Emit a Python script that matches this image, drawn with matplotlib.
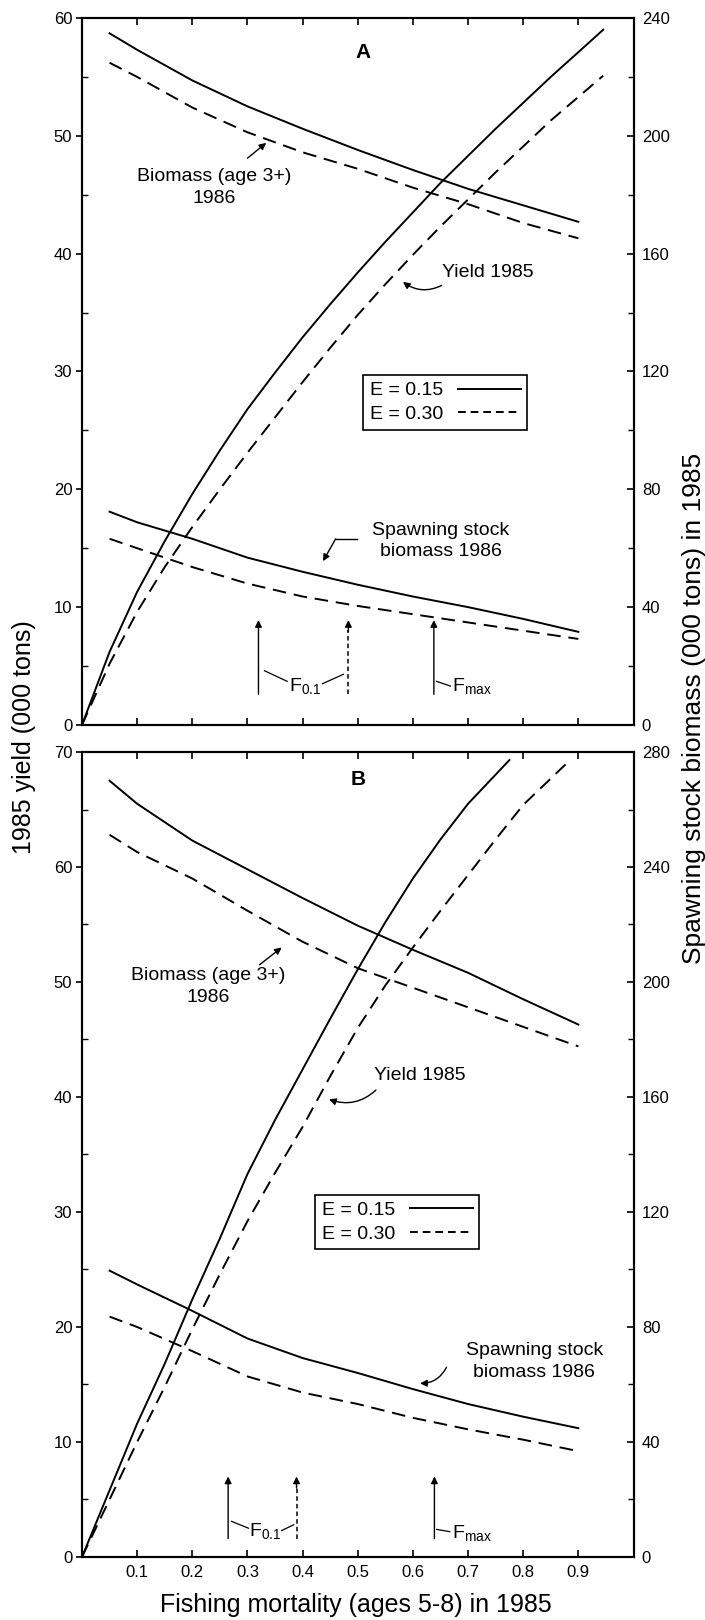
import matplotlib
matplotlib.use('Agg')
import matplotlib.pyplot as plt
from matplotlib.lines import Line2D
from matplotlib.ticker import MultipleLocator

# Fishing mortality grid used for the 1986 biomass curves
f_grid = [0.05, 0.1, 0.2, 0.3, 0.4, 0.5, 0.6, 0.7, 0.8, 0.9]

# Panel A
f_yield_a = [0, 0.05, 0.1, 0.15, 0.2, 0.25, 0.3, 0.35, 0.4, 0.45, 0.5,
             0.55, 0.6, 0.65, 0.7, 0.75, 0.8, 0.85, 0.9, 0.945]
yield_a_e15 = [0, 6.2, 11.3, 15.6, 19.6, 23.3, 26.8, 29.9, 32.9, 35.7, 38.4,
               41.0, 43.5, 46.0, 48.3, 50.6, 52.8, 55.0, 57.1, 59.0]
yield_a_e30 = [0, 5.2, 9.6, 13.4, 16.8, 20.0, 23.1, 26.1, 29.1, 32.0, 34.8,
               37.4, 39.9, 42.3, 44.6, 46.9, 49.1, 51.3, 53.3, 55.1]
bio_a_e15 = [58.7, 57.3, 54.7, 52.5, 50.6, 48.8, 47.1, 45.5, 44.1, 42.7]
bio_a_e30 = [56.2, 55.0, 52.4, 50.3, 48.6, 47.2, 45.6, 44.2, 42.6, 41.3]
ssb_a_e15 = [18.1, 17.2, 15.8, 14.2, 13.0, 11.9, 10.9, 10.0, 9.0, 7.9]
ssb_a_e30 = [15.8, 15.0, 13.4, 12.0, 10.9, 10.1, 9.4, 8.7, 8.0, 7.3]
f01_a = [0.32, 0.483]      # E=0.15 (solid), E=0.30 (dashed)
fmax_a = 0.638

# Panel B
f_yield_b_e15 = [0, 0.05, 0.1, 0.15, 0.2, 0.25, 0.3, 0.35, 0.4, 0.45, 0.5,
                 0.55, 0.6, 0.65, 0.7, 0.775]
yield_b_e15 = [0, 5.8, 11.6, 16.8, 22.4, 27.7, 33.3, 38.0, 42.4, 46.8, 51.1,
               55.2, 59.0, 62.4, 65.5, 69.3]
f_yield_b_e30 = [0, 0.05, 0.1, 0.15, 0.2, 0.25, 0.3, 0.35, 0.4, 0.45, 0.5,
                 0.55, 0.6, 0.65, 0.7, 0.75, 0.8, 0.885]
yield_b_e30 = [0, 5.0, 10.0, 14.8, 19.8, 24.6, 29.2, 33.4, 37.4, 41.8, 46.0,
               49.7, 53.0, 56.2, 59.3, 62.4, 65.4, 69.3]
bio_b_e15 = [67.5, 65.5, 62.3, 59.8, 57.3, 54.9, 52.8, 50.8, 48.5, 46.3]
bio_b_e30 = [62.8, 61.3, 59.0, 56.2, 53.5, 51.2, 49.5, 47.8, 46.1, 44.4]
ssb_b_e15 = [24.9, 23.7, 21.4, 19.0, 17.3, 16.0, 14.6, 13.3, 12.2, 11.2]
ssb_b_e30 = [20.9, 20.0, 17.9, 15.7, 14.3, 13.3, 12.1, 11.1, 10.2, 9.2]
f01_b = [0.265, 0.389]
fmax_b = 0.639

x_ticks = [0.1, 0.2, 0.3, 0.4, 0.5, 0.6, 0.7, 0.8, 0.9]
legend_labels = ['E = 0.15', 'E = 0.30']

plt.rcParams['font.family'] = ['Liberation Sans', 'DejaVu Sans']
plt.rcParams['mathtext.fontset'] = 'custom'
plt.rcParams['mathtext.rm'] = 'Liberation Sans'
plt.rcParams['mathtext.it'] = 'Liberation Sans:italic'

LW = 1.4
DASH = (0, (7, 4))
TXT = 14
ARROW = dict(arrowstyle='-|>', color='k', lw=1.0, mutation_scale=10,
             shrinkA=0, shrinkB=0)


def style_axes(ax, ymax, show_xlabels):
    ax.set_xlim(0, 1.0)
    ax.set_ylim(0, ymax)
    ax.set_xticks(x_ticks)
    ax.set_xticklabels([f'{x:.1f}' for x in x_ticks] if show_xlabels else [])
    ax.yaxis.set_major_locator(MultipleLocator(10))
    ax.yaxis.set_minor_locator(MultipleLocator(5))
    ax.tick_params(axis='x', which='major', direction='in', length=5,
                   width=1.2, labelsize=12, pad=6, top=True)
    # left axis: labelled ticks point out, half-steps point in
    ax.tick_params(axis='y', which='major', direction='out', length=4,
                   width=1.2, labelsize=12, pad=3)
    ax.tick_params(axis='y', which='minor', direction='in', length=4, width=1.0)
    for s in ax.spines.values():
        s.set_linewidth(1.5)

    ax2 = ax.twinx()
    ax2.set_ylim(0, ymax * 4)
    ax2.yaxis.set_major_locator(MultipleLocator(40))
    ax2.yaxis.set_minor_locator(MultipleLocator(20))
    ax2.tick_params(axis='y', which='major', direction='in', length=5,
                    width=1.2, labelsize=12, pad=6)
    ax2.tick_params(axis='y', which='minor', direction='in', length=4, width=1.0)
    for s in ax2.spines.values():
        s.set_linewidth(1.5)
    return ax2


def draw_curves(ax, fy15, y15, fy30, y30, b15, b30, s15, s30):
    ax.plot(fy15, y15, color='k', lw=LW)
    ax.plot(fy30, y30, color='k', lw=LW, ls=DASH)
    ax.plot(f_grid, b15, color='k', lw=LW)
    ax.plot(f_grid, b30, color='k', lw=LW, ls=DASH)
    ax.plot(f_grid, s15, color='k', lw=LW)
    ax.plot(f_grid, s30, color='k', lw=LW, ls=DASH)


def f_arrows(ax, f01, fmax, y0, y1):
    ax.annotate('', xy=(f01[0], y1), xytext=(f01[0], y0), arrowprops=ARROW)
    ax.plot([f01[1], f01[1]], [y0, y1 - 0.8], color='k', lw=1.1, ls=(0, (3, 2)))
    ax.annotate('', xy=(f01[1], y1), xytext=(f01[1], y1 - 1.0), arrowprops=ARROW)
    ax.annotate('', xy=(fmax, y1), xytext=(fmax, y0), arrowprops=ARROW)


def add_legend(ax, anchor):
    handles = [Line2D([], [], color='k', lw=LW),
               Line2D([], [], color='k', lw=LW, ls=(0, (4, 2.5)))]
    leg = ax.legend(handles, legend_labels, markerfirst=False, loc='upper left',
                    bbox_to_anchor=anchor, frameon=True, fancybox=False,
                    edgecolor='k', framealpha=1, fontsize=TXT, handlelength=3.2,
                    borderpad=0.35, labelspacing=0.3, handletextpad=0.8,
                    borderaxespad=0)
    leg.get_frame().set_linewidth(1.2)


fig = plt.figure(figsize=(7.05, 16.2), dpi=100)
ax_a = fig.add_axes([0.1163, 0.5525, 0.7823, 0.4364])
ax_b = fig.add_axes([0.1163, 0.0389, 0.7823, 0.4969])

# ---- Panel A ----
ax_a2 = style_axes(ax_a, 60, False)
draw_curves(ax_a, f_yield_a, yield_a_e15, f_yield_a, yield_a_e30,
            bio_a_e15, bio_a_e30, ssb_a_e15, ssb_a_e30)
ax_a.text(0.51, 57.1, 'A', fontsize=15, fontweight='bold', ha='center', va='center')
ax_a.text(0.24, 45.6, 'Biomass (age 3+)\n1986', fontsize=TXT, ha='center',
          va='center', linespacing=1.35)
ax_a.annotate('', xy=(0.334, 49.4), xytext=(0.30, 48.1), arrowprops=ARROW)
ax_a.text(0.652, 38.4, 'Yield 1985', fontsize=TXT, ha='left', va='center')
ax_a.annotate('', xy=(0.582, 37.6), xytext=(0.652, 37.3),
              arrowprops=dict(ARROW, connectionstyle='arc3,rad=-0.3'))
ax_a.text(0.65, 15.6, 'Spawning stock\nbiomass 1986', fontsize=TXT, ha='center',
          va='center', linespacing=1.35)
ax_a.plot([0.46, 0.498], [15.8, 15.8], color='k', lw=1.0)
ax_a.annotate('', xy=(0.437, 13.9), xytext=(0.46, 15.8), arrowprops=ARROW)
add_legend(ax_a, (0.509, 0.495))
f_arrows(ax_a, f01_a, fmax_a, 2.6, 8.9)
ax_a.text(0.404, 3.3, r'F$_{\rm 0.1}$', fontsize=TXT, ha='center', va='center')
ax_a.plot([0.331, 0.372], [4.6, 3.7], color='k', lw=0.9)
ax_a.plot([0.436, 0.474], [3.5, 4.3], color='k', lw=0.9)
ax_a.text(0.671, 3.3, r'F$_{\rm max}$', fontsize=TXT, ha='left', va='center')
ax_a.plot([0.643, 0.668], [3.7, 3.3], color='k', lw=0.9)

# ---- Panel B ----
ax_b2 = style_axes(ax_b, 70, True)
draw_curves(ax_b, f_yield_b_e15, yield_b_e15, f_yield_b_e30, yield_b_e30,
            bio_b_e15, bio_b_e30, ssb_b_e15, ssb_b_e30)
ax_b.text(0.50, 67.6, 'B', fontsize=15, fontweight='bold', ha='center', va='center')
ax_b.text(0.228, 49.6, 'Biomass (age 3+)\n1986', fontsize=TXT, ha='center',
          va='center', linespacing=1.35)
ax_b.annotate('', xy=(0.362, 53.0), xytext=(0.322, 51.5), arrowprops=ARROW)
ax_b.text(0.529, 41.9, 'Yield 1985', fontsize=TXT, ha='left', va='center')
ax_b.annotate('', xy=(0.448, 39.8), xytext=(0.533, 40.6),
              arrowprops=dict(ARROW, connectionstyle='arc3,rad=-0.3'))
ax_b.text(0.82, 17.0, 'Spawning stock\nbiomass 1986', fontsize=TXT, ha='center',
          va='center', linespacing=1.35)
ax_b.annotate('', xy=(0.613, 15.1), xytext=(0.661, 16.5),
              arrowprops=dict(ARROW, connectionstyle='arc3,rad=-0.3'))
add_legend(ax_b, (0.422, 0.45))
f_arrows(ax_b, f01_b, fmax_b, 1.6, 7.0)
ax_b.text(0.332, 2.3, r'F$_{\rm 0.1}$', fontsize=TXT, ha='center', va='center')
ax_b.plot([0.271, 0.302], [3.1, 2.5], color='k', lw=0.9)
ax_b.plot([0.362, 0.384], [2.3, 2.8], color='k', lw=0.9)
ax_b.text(0.670, 2.1, r'F$_{\rm max}$', fontsize=TXT, ha='left', va='center')
ax_b.plot([0.643, 0.667], [2.4, 2.2], color='k', lw=0.9)

# Shared axis labels
fig.text(0.034, 0.545, '1985 yield (000 tons)', rotation=90, fontsize=18,
         ha='center', va='center')
fig.text(0.985, 0.563, 'Spawning stock biomass (000 tons) in 1985', rotation=90,
         fontsize=19, ha='center', va='center')
fig.text(0.505, 0.009, 'Fishing mortality (ages 5-8) in 1985', fontsize=18,
         ha='center', va='center')

fig.savefig('out.png', dpi=100)
